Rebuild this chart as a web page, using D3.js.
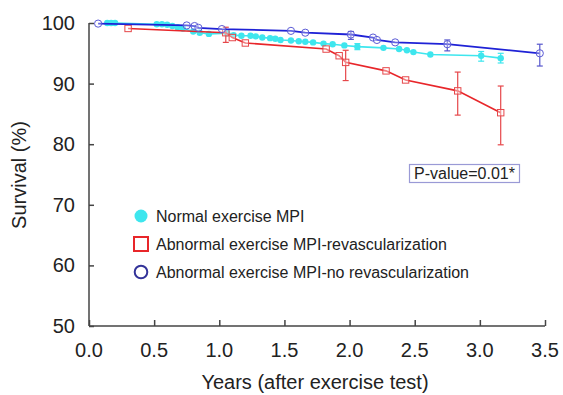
<!DOCTYPE html>
<html><head><meta charset="utf-8">
<script src="https://cdn.jsdelivr.net/npm/d3@7"></script>
<style>body{margin:0;background:#fff}svg{display:block}text{font-family:"Liberation Sans",Arial,sans-serif;fill:#222}</style>
</head><body>
<svg id="c" width="563" height="395"></svg>
<script>
// Data
const normalX = [0.14,0.17,0.20,0.52,0.56,0.60,0.64,0.68,0.72,0.80,0.85,0.92,1.06,1.11,1.17,1.24,1.28,1.33,1.39,1.43,1.47,1.55,1.61,1.66,1.72,1.80,1.87,1.96,2.06,2.26,2.38,2.44,2.49,2.62,3.01,3.16];
const normalY = [100,100,100,99.8,99.8,99.7,99.5,99.3,99.1,98.6,98.4,98.2,98.3,98.0,97.9,97.9,97.8,97.6,97.5,97.4,97.2,97.1,97.0,96.9,96.8,96.6,96.5,96.3,96.1,95.9,95.7,95.5,95.2,94.8,94.6,94.2];
const normalErr = [{x:2.06,lo:95.6,hi:96.6},{x:3.01,lo:93.7,hi:95.3},{x:3.16,lo:93.4,hi:95.0}];

const revascX = [0.30,1.05,1.10,1.20,1.82,1.92,1.97,2.28,2.43,2.83,3.16];
const revascY = [99.1,98.4,97.6,96.7,95.7,94.6,93.5,92.1,90.6,88.8,85.2];
const revascErr = [{x:1.05,lo:96.8,hi:99.3},{x:1.97,lo:90.5,hi:95.5},{x:2.83,lo:84.8,hi:91.9},{x:3.16,lo:79.9,hi:89.6}];

const noRevX = [0.07,0.75,0.81,0.84,1.02,1.55,1.66,2.01,2.18,2.21,2.35,2.75,3.46];
const noRevY = [99.9,99.6,99.5,99.2,99.0,98.7,98.4,98.1,97.6,97.2,96.8,96.5,95.0];
const noRevErr = [{x:2.01,lo:97.3,hi:98.6},{x:2.75,lo:95.4,hi:97.2},{x:3.46,lo:92.9,hi:96.5}];

const xTicks = [0,0.5,1,1.5,2,2.5,3,3.5];
const yTicks = [50,60,70,80,90,100];
const legendLabels = ["Normal exercise MPI","Abnormal exercise MPI-revascularization","Abnormal exercise MPI-no revascularization"];

const svg = d3.select("#c");
const x = d3.scaleLinear().domain([0,3.5]).range([89,545]);
const y = d3.scaleLinear().domain([50,100]).range([326,23]);

// Axes
const axisCol = "#444";
const xAxis = svg.append("g").attr("transform",`translate(0,${y(50)})`)
  .call(d3.axisTop(x).tickValues(xTicks).tickSize(6).tickFormat(""));
xAxis.selectAll("path,line").attr("stroke",axisCol).attr("stroke-width",1.5);
xAxis.select(".domain").attr("d",`M${x(0)},0H${x(3.5)}`);
const yAxis = svg.append("g").attr("transform",`translate(${x(0)},0)`)
  .call(d3.axisRight(y).tickValues(yTicks).tickSize(5).tickFormat(""));
yAxis.selectAll("path,line").attr("stroke",axisCol).attr("stroke-width",1.5);
yAxis.select(".domain").attr("d",`M0,${y(100)}V${y(50)}`);

svg.append("g").selectAll("text").data(xTicks).join("text")
  .attr("x",d=>x(d)).attr("y",357).attr("text-anchor","middle")
  .style("font-size","20px").text(d=>d.toFixed(1));
svg.append("g").selectAll("text").data(yTicks).join("text")
  .attr("x",75).attr("y",d=>y(d)+7).attr("text-anchor","end")
  .style("font-size","20px").text(d=>d);

svg.append("text").attr("x",315).attr("y",389).attr("text-anchor","middle")
  .style("font-size","20px").text("Years (after exercise test)");
svg.append("text").attr("transform","translate(26,175) rotate(-90)").attr("text-anchor","middle")
  .style("font-size","20px").text("Survival (%)");

const line = d3.line().x(d=>x(d[0])).y(d=>y(d[1]));

function errBars(data,col){
  const g = svg.append("g").attr("stroke",col).attr("stroke-width",1.2);
  data.forEach(e=>{
    g.append("line").attr("x1",x(e.x)).attr("x2",x(e.x)).attr("y1",y(e.lo)).attr("y2",y(e.hi));
    [e.lo,e.hi].forEach(v=>g.append("line").attr("x1",x(e.x)-3).attr("x2",x(e.x)+3).attr("y1",y(v)).attr("y2",y(v)));
  });
}

// Normal (cyan)
const nPts = normalX.map((d,i)=>[d,normalY[i]]);
svg.append("path").attr("d",line(nPts)).attr("fill","none").attr("stroke","#3ee6ee").attr("stroke-width",1.6);
errBars(normalErr,"#3ee6ee");
svg.append("g").selectAll("circle").data(nPts).join("circle")
  .attr("cx",d=>x(d[0])).attr("cy",d=>y(d[1])).attr("r",3.2).attr("fill","#3ee6ee");

// Revascularization (red)
const rPts = revascX.map((d,i)=>[d,revascY[i]]);
svg.append("path").attr("d",line(rPts)).attr("fill","none").attr("stroke","#e8262a").attr("stroke-width",1.6);
errBars(revascErr,"#e6474a");
svg.append("g").selectAll("rect").data(rPts).join("rect")
  .attr("x",d=>x(d[0])-3.2).attr("y",d=>y(d[1])-3.2).attr("width",6.4).attr("height",6.4)
  .attr("fill","#fff").attr("fill-opacity",0.4).attr("stroke","#e6474a").attr("stroke-width",1);

// No revascularization (blue)
const bPts = noRevX.map((d,i)=>[d,noRevY[i]]);
svg.append("path").attr("d",line(bPts)).attr("fill","none").attr("stroke","#1f22d6").attr("stroke-width",1.8);
errBars(noRevErr,"#5555cc");
svg.append("g").selectAll("circle").data(bPts).join("circle")
  .attr("cx",d=>x(d[0])).attr("cy",d=>y(d[1])).attr("r",3.6)
  .attr("fill","#fff").attr("fill-opacity",0.3).attr("stroke","#5b5bd6").attr("stroke-width",1);

// Legend
const lg = svg.append("g");
const ly = [216,244,272];
lg.append("circle").attr("cx",141).attr("cy",ly[0]).attr("r",6.5).attr("fill","#3ee6ee");
lg.append("rect").attr("x",134).attr("y",ly[1]-7).attr("width",14).attr("height",14).attr("fill","none").attr("stroke","#e8262a").attr("stroke-width",2);
lg.append("circle").attr("cx",141).attr("cy",ly[2]).attr("r",6.3).attr("fill","none").attr("stroke","#333399").attr("stroke-width",2);
lg.selectAll("text").data(legendLabels).join("text")
  .attr("x",156).attr("y",(d,i)=>ly[i]+6).style("font-size","16px").text(d=>d);

// P-value box
svg.append("rect").attr("x",409.5).attr("y",164.5).attr("width",110).attr("height",18)
  .attr("fill","#fff").attr("stroke","#9a9ad6").attr("stroke-width",1.2);
svg.append("text").attr("x",414).attr("y",179).style("font-size","16px").text("P-value=0.01*");
</script>
</body></html>
